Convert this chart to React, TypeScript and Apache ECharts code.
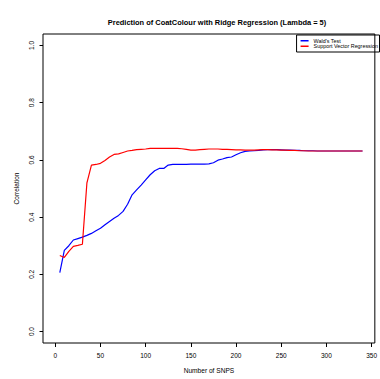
import React, { useEffect, useRef } from "react";
import * as echarts from "echarts";

const snps = [5, 10, 15, 20, 25, 30, 35, 40, 45, 50, 55, 60, 65, 70, 75, 80, 85, 90, 95, 100,
  105, 110, 115, 120, 125, 130, 135, 140, 145, 150, 155, 160, 165, 170, 175, 180, 185, 190, 195, 200,
  205, 210, 215, 220, 225, 230, 235, 240, 245, 250, 255, 260, 265, 270, 275, 280, 285, 290, 295, 300,
  305, 310, 315, 320, 325, 330, 335, 340];

const waldTest = [
  0.206, 0.284, 0.300, 0.320, 0.325, 0.330, 0.336, 0.343, 0.352, 0.361,
  0.373, 0.385, 0.396, 0.406, 0.420, 0.445, 0.478, 0.495, 0.512, 0.530,
  0.548, 0.562, 0.570, 0.570, 0.582, 0.584, 0.584, 0.584, 0.584, 0.585,
  0.585, 0.585, 0.585, 0.586, 0.590, 0.599, 0.603, 0.608, 0.610, 0.618,
  0.625, 0.630, 0.631, 0.632, 0.633, 0.635, 0.636, 0.636, 0.636, 0.635,
  0.634, 0.634, 0.633, 0.633, 0.632, 0.632, 0.632, 0.631, 0.631, 0.631,
  0.631, 0.631, 0.631, 0.631, 0.631, 0.631, 0.631, 0.631];

const svr = [
  0.266, 0.259, 0.280, 0.298, 0.301, 0.305, 0.520, 0.582, 0.584, 0.588,
  0.598, 0.610, 0.619, 0.621, 0.626, 0.631, 0.633, 0.636, 0.637, 0.638,
  0.640, 0.640, 0.640, 0.640, 0.640, 0.640, 0.640, 0.639, 0.637, 0.634,
  0.634, 0.636, 0.637, 0.638, 0.638, 0.638, 0.637, 0.637, 0.636, 0.635,
  0.635, 0.634, 0.634, 0.634, 0.635, 0.636, 0.636, 0.635, 0.635, 0.634,
  0.634, 0.633, 0.633, 0.632, 0.632, 0.631, 0.631, 0.631, 0.631, 0.631,
  0.631, 0.631, 0.631, 0.631, 0.631, 0.631, 0.631, 0.631];

const xTicks = [0, 50, 100, 150, 200, 250, 300, 350];
const yTicks = [0, 0.2, 0.4, 0.6, 0.8, 1.0];
const seriesNames = ["Wald's Test", "Support Vector Regression"];

const FONT = "'Liberation Sans', Arial, Helvetica, sans-serif";

export default function App() {
  const ref = useRef<HTMLDivElement>(null);
  useEffect(() => {
    document.body.style.margin = "0";
    const chart = echarts.init(ref.current!, null, { renderer: "svg" });
    chart.setOption({
      animation: false,
      backgroundColor: "#fff",
      title: {
        text: "Prediction of CoatColour with Ridge Regression (Lambda = 5)",
        left: 212,
        textAlign: "center",
        top: 14,
        textStyle: { fontFamily: FONT, fontSize: 7.45, fontWeight: "bold", color: "#000" },
      },
      legend: {
        orient: "vertical",
        right: 0.5,
        top: 35,
        padding: [3, 1.5, 3, 4],
        itemGap: 0,
        itemWidth: 8,
        itemHeight: 1.5,
        icon: "rect",
        borderColor: "#000",
        borderWidth: 1,
        borderRadius: 0,
        data: seriesNames,
        textStyle: { fontFamily: FONT, fontSize: 5.4, color: "#000", lineHeight: 5.5, padding: 0 },
      },
      grid: {
        left: 43,
        right: 1,
        top: 34,
        bottom: 31.5,
        show: true,
        borderColor: "#000",
        borderWidth: 1,
        backgroundColor: "transparent",
      },
      xAxis: {
        type: "value",
        min: -13.6,
        max: 353.6,
        name: "Number of SNPS",
        nameLocation: "middle",
        nameGap: 24,
        nameTextStyle: { fontFamily: FONT, fontSize: 6.6, color: "#000" },
        axisLine: { show: false, onZero: false },
        axisTick: { show: true, length: 4, customValues: xTicks, lineStyle: { color: "#000" } },
        axisLabel: {
          customValues: xTicks,
          margin: 9,
          fontFamily: FONT,
          fontSize: 6.5,
          color: "#000",
        },
        splitLine: { show: false },
      },
      yAxis: {
        type: "value",
        min: -0.04,
        max: 1.04,
        name: "Correlation",
        nameLocation: "middle",
        nameGap: 23,
        nameTextStyle: { fontFamily: FONT, fontSize: 6.5, color: "#000" },
        axisLine: { show: false, onZero: false },
        axisTick: { show: true, length: 3.5, customValues: yTicks, lineStyle: { color: "#000" } },
        axisLabel: {
          customValues: yTicks,
          rotate: 90,
          margin: 8,
          fontFamily: FONT,
          fontSize: 6.5,
          color: "#000",
          formatter: (v: number) => v.toFixed(1),
        },
        splitLine: { show: false },
      },
      series: [
        {
          name: seriesNames[0],
          type: "line",
          data: snps.map((x, i) => [x, waldTest[i]]),
          showSymbol: false,
          symbol: "none",
          lineStyle: { color: "#0000ff", width: 1.2 },
          itemStyle: { color: "#0000ff" },
        },
        {
          name: seriesNames[1],
          type: "line",
          data: snps.map((x, i) => [x, svr[i]]),
          showSymbol: false,
          symbol: "none",
          lineStyle: { color: "#ff0000", width: 1.2 },
          itemStyle: { color: "#ff0000" },
        },
      ],
    });
    return () => chart.dispose();
  }, []);
  return <div ref={ref} style={{ width: 380, height: 379 }} />;
}
